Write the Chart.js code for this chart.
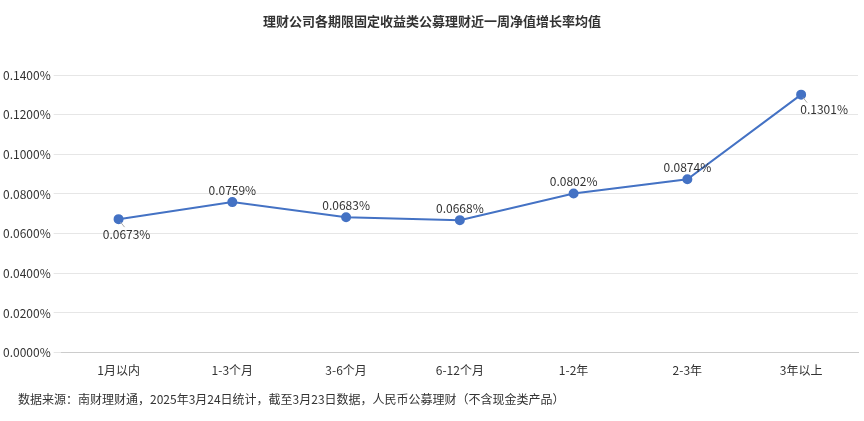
<!DOCTYPE html>
<html><head><meta charset="utf-8">
<script src="https://cdn.jsdelivr.net/npm/chart.js@4/dist/chart.umd.min.js"></script>
<style>body{margin:0;background:#fff}</style>
</head><body><canvas id="c" width="864" height="421"></canvas>
<script>
var categories = ['1月以内','1-3个月','3-6个月','6-12个月','1-2年','2-3年','3年以上'];
var values = [0.0673, 0.0759, 0.0683, 0.0668, 0.0802, 0.0874, 0.1301];
var labelPos = ['below','above','above','above','above','above','below'];
var title = '理财公司各期限固定收益类公募理财近一周净值增长率均值';
var note = '数据来源：南财理财通，2025年3月24日统计，截至3月23日数据，人民币公募理财（不含现金类产品）';

var FONT = '"Noto Sans CJK SC", "Noto Sans", sans-serif';

var textPlugin = {
	id: 'texts',
	afterDatasetsDraw: function(chart){
		var ctx = chart.ctx;
		ctx.save();
		ctx.fillStyle = '#333';
		ctx.font = 'bold 13px ' + FONT;
		ctx.textAlign = 'center';
		ctx.textBaseline = 'middle';
		ctx.fillText(title, 432, 21);
		ctx.font = '12px ' + FONT;
		ctx.textAlign = 'left';
		ctx.fillText(note, 18, 399);
		// 데이터 라벨
		ctx.textAlign = 'center';
		var meta = chart.getDatasetMeta(0);
		meta.data.forEach(function(pt, i){
			var txt = values[i].toFixed(4) + '%';
			var x = pt.x, y = pt.y;
			if (labelPos[i] == 'below') {
				var dx = (i == 0) ? 8 : 23;
				ctx.strokeStyle = '#aaa';
				ctx.lineWidth = 1;
				ctx.beginPath();
				ctx.moveTo(x + 2, y + 3); ctx.lineTo(x + 6, y + 8);
				ctx.stroke();
				ctx.fillText(txt, x + dx, y + 15);
			} else {
				ctx.fillText(txt, x, y - 12);
			}
		});
		ctx.restore();
	}
};

new Chart('c', {
	type: 'line',
	data: {
		labels: categories,
		datasets: [{
			data: values,
			borderColor: '#4472C4',
			backgroundColor: '#4472C4',
			borderWidth: 2,
			pointRadius: 4,
			tension: 0
		}]
	},
	options: {
		responsive: false,
		animation: false,
		layout: { padding: { top: 75, bottom: 40, right: 4, left: 0 } },
		plugins: { legend: { display: false }, tooltip: { enabled: false } },
		scales: {
			x: {
				offset: true,
				grid: { display: false },
				border: { color: '#ccc' },
				ticks: { color: '#333', font: { size: 12, family: FONT } }
			},
			y: {
				min: 0, max: 0.14,
				ticks: { stepSize: 0.02, color: '#333', font: { size: 12, family: FONT },
					callback: function(v){ return v.toFixed(4) + '%'; } },
				grid: { color: '#e6e6e6' },
				border: { display: false }
			}
		}
	},
	plugins: [textPlugin]
});
</script>
</body></html>
